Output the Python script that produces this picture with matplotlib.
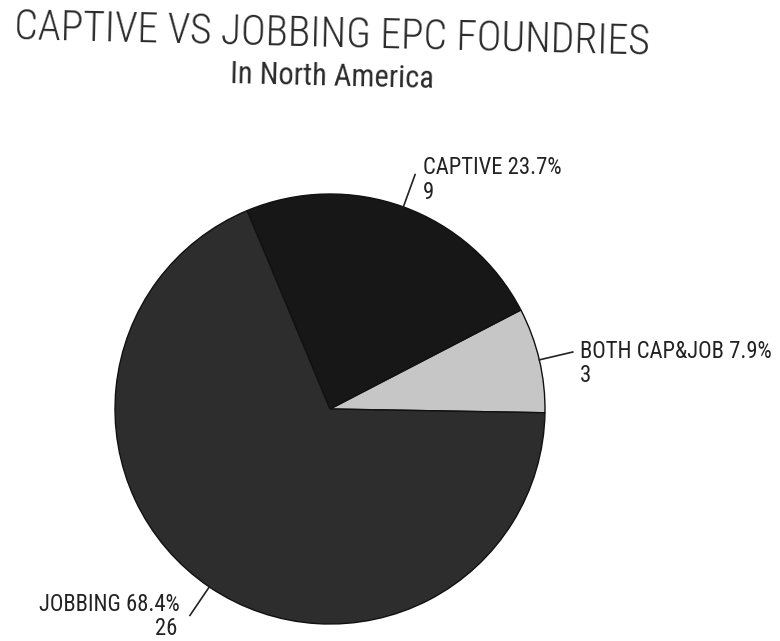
import matplotlib
matplotlib.use('Agg')
import matplotlib.pyplot as plt
import numpy as np

categories = ['BOTH CAP&JOB', 'CAPTIVE', 'JOBBING']
counts = [3, 9, 26]
percents = ['7.9%', '23.7%', '68.4%']
title = 'CAPTIVE VS JOBBING EPC FOUNDRIES'
subtitle = 'In North America'

colors = ['#c6c6c6', '#171717', '#2d2d2d']

W, H = 780, 641
fig = plt.figure(figsize=(W / 100, H / 100), dpi=100)
fig.patch.set_facecolor('white')

cx, cy, r = 330, 409, 215
ax = fig.add_axes([(cx - r) / W, (H - cy - r) / H, 2 * r / W, 2 * r / H])
wedges, _ = ax.pie(counts, colors=colors, startangle=-1, counterclock=True,
                   radius=1, wedgeprops=dict(edgecolor='#111111', linewidth=1.0))
ax.set_xlim(-1, 1)
ax.set_ylim(-1, 1)
ax.set_aspect('equal')
ax.axis('off')

cond = ['Roboto Condensed', 'DejaVu Sans']
px = 1 / r  # one pixel in data units
# text offsets (pixels) from leader end
styles = {
    'BOTH CAP&JOB': dict(dx1=7, dx2=7, dy1=6, dy2=30, ha='left'),
    'CAPTIVE': dict(dx1=8, dx2=8, dy1=-1, dy2=24, ha='left'),
    'JOBBING': dict(dx1=-10, dx2=-13, dy1=-4, dy2=20, ha='right'),
}
for w, cat, cnt, pct in zip(wedges, categories, counts, percents):
    th = np.deg2rad((w.theta1 + w.theta2) / 2)
    x0, y0 = np.cos(th), np.sin(th)
    x1, y1 = 1.16 * np.cos(th), 1.16 * np.sin(th)
    ax.plot([x0, x1], [y0, y1], color='#222222', lw=1.2, clip_on=False)
    s = styles[cat]
    ax.text(x1 + s['dx1'] * px, y1 - s['dy1'] * px, f'{cat} {pct}', ha=s['ha'],
            va='baseline', fontsize=16.3, family=cond, color='#222222', clip_on=False)
    ax.text(x1 + s['dx2'] * px, y1 - s['dy2'] * px, f'{cnt}', ha=s['ha'],
            va='baseline', fontsize=16.3, family=cond, color='#222222', clip_on=False)

fig.text(14 / W, 1 - 39 / H, title, fontsize=30, fontweight=300,
         family=cond, color='#2a2a2a', ha='left', va='baseline',
         rotation=-1.4, rotation_mode='anchor')
fig.text(332 / W, 1 - 85.5 / H, subtitle, fontsize=22, fontweight=400,
         family=cond, color='#2a2a2a', ha='center', va='baseline',
         rotation=-1.4, rotation_mode='anchor')

fig.savefig('out.png', dpi=100, facecolor='white')
